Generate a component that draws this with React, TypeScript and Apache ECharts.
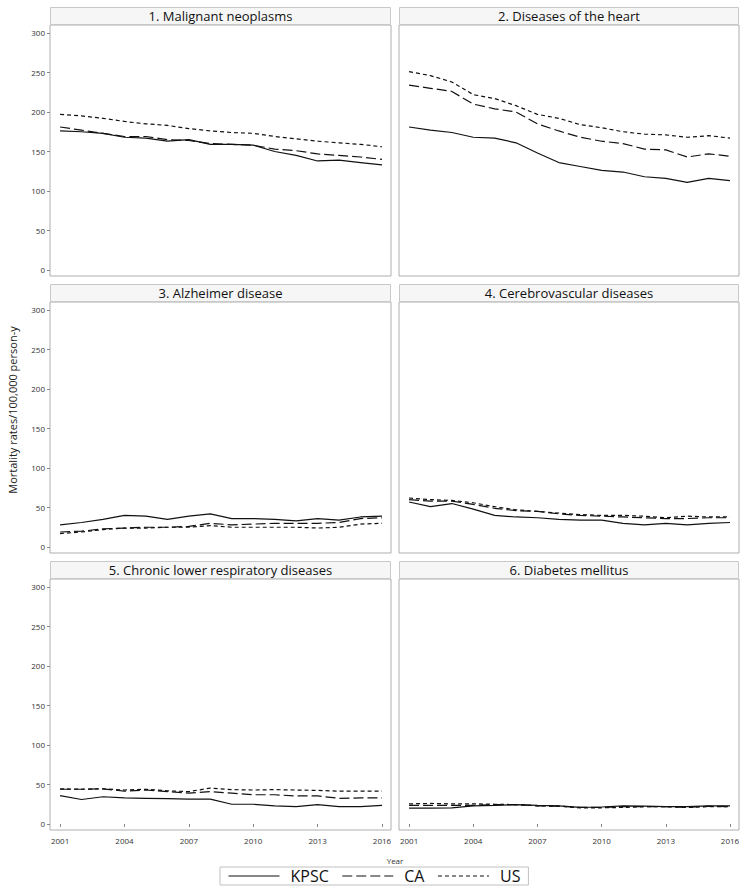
import React, { useEffect, useRef } from "react";
import * as echarts from "echarts";

const years = [2001, 2002, 2003, 2004, 2005, 2006, 2007, 2008, 2009, 2010, 2011, 2012, 2013, 2014, 2015, 2016];
const xTickYears = [2001, 2004, 2007, 2010, 2013, 2016];
const yTicks = [0, 50, 100, 150, 200, 250, 300];
const seriesNames = ["KPSC", "CA", "US"];
const panelTitles = [
  "1. Malignant neoplasms",
  "2. Diseases of the heart",
  "3. Alzheimer disease",
  "4. Cerebrovascular diseases",
  "5. Chronic lower respiratory diseases",
  "6. Diabetes mellitus",
];

const p1KPSC = [176, 175, 173, 168, 167, 163, 165, 159, 159, 158, 150, 145, 138, 139, 136, 133];
const p1CA = [181, 177, 173, 169, 169, 165, 164, 160, 159, 158, 153, 151, 147, 145, 143, 140];
const p1US = [197, 195, 192, 188, 185, 183, 179, 176, 174, 173, 169, 166, 163, 161, 159, 156];

const p2KPSC = [181, 177, 174, 168, 167, 161, 148, 136, 131, 126, 124, 118, 116, 111, 116, 113];
const p2CA = [234, 230, 226, 210, 204, 200, 185, 176, 168, 163, 160, 153, 152, 143, 147, 144];
const p2US = [251, 246, 238, 222, 217, 208, 197, 192, 184, 180, 175, 172, 171, 168, 170, 167];

const p3KPSC = [28, 31, 35, 40, 39, 35, 39, 42, 36, 36, 35, 33, 36, 34, 38, 39];
const p3CA = [19, 20, 23, 24, 25, 25, 26, 30, 28, 29, 30, 30, 30, 31, 36, 37];
const p3US = [17, 19, 22, 24, 24, 25, 25, 27, 25, 25, 25, 25, 24, 25, 29, 30];

const p4KPSC = [57, 51, 55, 48, 40, 38, 37, 35, 34, 34, 30, 28, 30, 28, 30, 31];
const p4CA = [60, 58, 58, 54, 49, 46, 45, 42, 40, 39, 38, 37, 36, 36, 37, 37];
const p4US = [62, 60, 59, 56, 51, 47, 45, 43, 41, 40, 40, 39, 37, 39, 38, 38];

const p5KPSC = [36, 31, 34.5, 33, 32.5, 32, 31.5, 31.5, 25, 25, 23, 22, 24.5, 22, 22, 23.5];
const p5CA = [44, 44, 44.5, 41.5, 43, 41, 39, 41, 39, 37, 37, 35.5, 35.5, 32.5, 33, 33];
const p5US = [44.5, 44, 44.5, 43, 44, 42, 41, 45.5, 43.5, 43, 43.5, 43, 42.5, 41.5, 41.5, 41.5];

const p6KPSC = [20, 20, 20.5, 23, 23.5, 24.5, 23.5, 23, 21, 21.5, 23, 22.5, 22, 22, 23, 23];
const p6CA = [23.5, 23.5, 23.5, 23.5, 24.5, 24.5, 23, 22.5, 21, 21, 22, 22, 22, 21, 22.5, 22];
const p6US = [25.5, 26, 25.5, 25.5, 25, 24.5, 23, 22.5, 20.5, 20.5, 21, 22, 22, 21, 22, 22];

const panelData = [
  [p1KPSC, p1CA, p1US],
  [p2KPSC, p2CA, p2US],
  [p3KPSC, p3CA, p3US],
  [p4KPSC, p4CA, p4US],
  [p5KPSC, p5CA, p5US],
  [p6KPSC, p6CA, p6US],
];

const FONT = "'Open Sans', 'Noto Sans', sans-serif";
const colLeft = [50, 399];
const colWidth = [341, 340];
const rowTop = [25, 302, 579];
const plotH = 251;
const headerH = 18;
const dashStyles: any[] = ["solid", [10, 4], [4, 3]];

export default function App() {
  const ref = useRef<HTMLDivElement>(null);
  useEffect(() => {
    const chart = echarts.init(ref.current!, null, { renderer: "svg" });
    const grids: any[] = [];
    const xAxes: any[] = [];
    const yAxes: any[] = [];
    const series: any[] = [];
    const graphics: any[] = [];
    for (let i = 0; i < 6; i++) {
      const r = Math.floor(i / 2);
      const c = i % 2;
      const left = colLeft[c];
      const top = rowTop[r];
      const w = colWidth[c];
      grids.push({
        left,
        top,
        width: w,
        height: plotH,
        show: true,
        borderColor: "#aeaeae",
        borderWidth: 1,
        backgroundColor: "#fff",
        containLabel: false,
      });
      const showX = r === 2;
      const showY = c === 0;
      xAxes.push({
        type: "value",
        gridIndex: i,
        min: 2000.53,
        max: 2016.42,
        axisLine: { show: false },
        splitLine: { show: false },
        axisTick: {
          show: showX,
          customValues: xTickYears,
          length: 3,
          lineStyle: { color: "#888" },
        },
        axisLabel: {
          show: showX,
          customValues: xTickYears,
          formatter: (v: number) => String(Math.round(v)),
          fontSize: 8,
          fontFamily: FONT,
          color: "#333",
          margin: 6,
        },
      });
      yAxes.push({
        type: "value",
        gridIndex: i,
        min: -7.6,
        max: 310.1,
        axisLine: { show: false },
        splitLine: { show: false },
        axisTick: {
          show: showY,
          customValues: yTicks,
          length: 3,
          lineStyle: { color: "#888" },
        },
        axisLabel: {
          show: showY,
          customValues: yTicks,
          formatter: (v: number) => String(Math.round(v)),
          fontSize: 8,
          fontFamily: FONT,
          color: "#333",
          margin: 5,
        },
      });
      panelData[i].forEach((vals, k) => {
        series.push({
          type: "line",
          name: seriesNames[k],
          xAxisIndex: i,
          yAxisIndex: i,
          symbol: "none",
          data: years.map((yr, j) => [yr, vals[j]]),
          lineStyle: { color: "#111", width: 1.2, type: dashStyles[k] },
          itemStyle: { color: "#111" },
        });
      });
      graphics.push({
        type: "rect",
        shape: { x: left + 0.5, y: top - headerH + 0.5, width: w - 1, height: headerH - 1 },
        style: { fill: "#f6f6f6", stroke: "#c8c8c8", lineWidth: 1 },
      });
      graphics.push({
        type: "text",
        x: left + w / 2,
        y: top - headerH / 2,
        style: {
          text: panelTitles[i],
          fontSize: 13,
          fontFamily: FONT,
          fill: "#111",
          align: "center",
          verticalAlign: "middle",
          textAlign: "center",
          textVerticalAlign: "middle",
        },
      });
    }
    graphics.push({
      type: "text",
      x: 12,
      y: 410,
      rotation: Math.PI / 2,
      style: {
        text: "Mortality rates/100,000 person-y",
        fontSize: 11,
        fontFamily: FONT,
        fill: "#222",
        align: "center",
        verticalAlign: "middle",
        textAlign: "center",
        textVerticalAlign: "middle",
      },
    });
    graphics.push({
      type: "text",
      x: 395,
      y: 860,
      style: {
        text: "Year",
        fontSize: 8,
        fontFamily: FONT,
        fill: "#333",
        align: "center",
        verticalAlign: "middle",
        textAlign: "center",
        textVerticalAlign: "middle",
      },
    });
    chart.setOption({
      animation: false,
      backgroundColor: "#fff",
      grid: grids,
      xAxis: xAxes,
      yAxis: yAxes,
      series,
      graphic: graphics,
      legend: {
        data: seriesNames,
        left: 220,
        top: 867,
        orient: "horizontal",
        itemWidth: 51,
        itemHeight: 14,
        itemGap: 13,
        padding: [1, 8, 1, 8],
        borderColor: "#c0c0c0",
        borderWidth: 1,
        selectedMode: false,
        itemStyle: { opacity: 0 },
        lineStyle: { width: 1 },
        textStyle: {
          fontSize: 16,
          fontFamily: FONT,
          color: "#111",
          lineHeight: 15,
          padding: [0, 0, 0, 6],
        },
      },
    });
    return () => chart.dispose();
  }, []);
  return (
    <div
      ref={ref}
      style={{ position: "absolute", left: 0, top: 0, width: 747, height: 892 }}
    />
  );
}
